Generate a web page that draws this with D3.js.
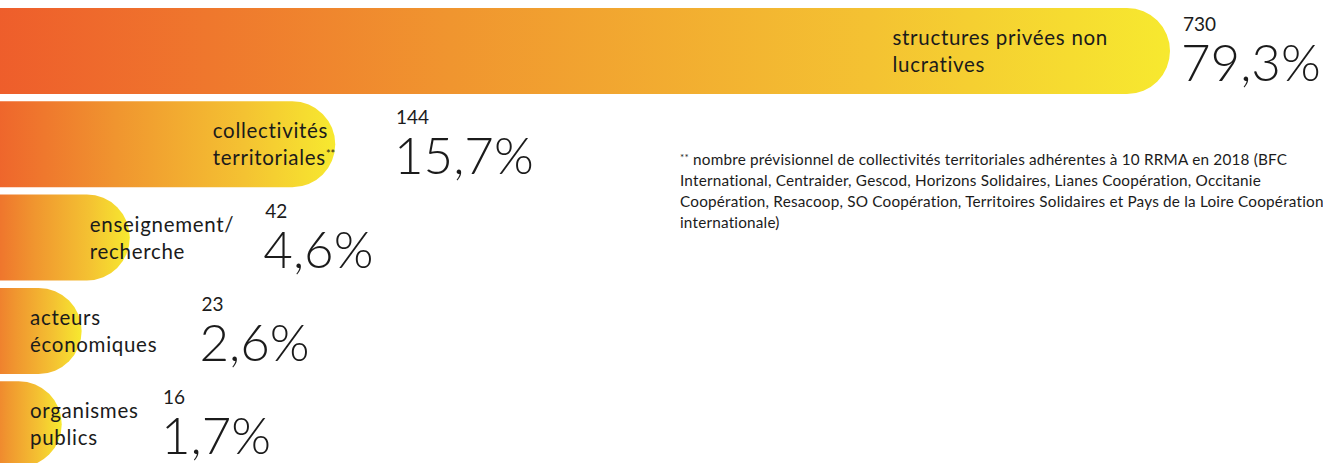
<!DOCTYPE html>
<html>
<head>
<meta charset="utf-8">
<script src="https://cdn.jsdelivr.net/npm/d3@7"></script>
<style>
  html, body { margin: 0; padding: 0; background: #fff; overflow: hidden; }
  svg { display: block; }
  text { font-family: "Lato", "Open Sans", sans-serif; fill: #1b1b1b; }
</style>
</head>
<body>
<svg id="chart" width="1323" height="463"></svg>
<script>
// ---- data ----
const categories = [
  "structures privées non\nlucratives",
  "collectivités\nterritoriales**",
  "enseignement/\nrecherche",
  "acteurs\néconomiques",
  "organismes\npublics"
];
const counts = [730, 144, 42, 23, 16];
const percents = [79.3, 15.7, 4.6, 2.6, 1.7];
const footnoteLines = [
  "nombre prévisionnel de collectivités territoriales adhérentes à 10 RRMA en 2018 (BFC",
  "International, Centraider, Gescod, Horizons Solidaires, Lianes Coopération, Occitanie",
  "Coopération, Resacoop, SO Coopération, Territoires Solidaires et Pays de la Loire Coopération",
  "internationale)"
];

// ---- layout ----
const W = 1323, H = 463;
const svg = d3.select("#chart");
const defs = svg.append("defs");

const y = d3.scaleBand()
  .domain(categories)
  .range([8, 467.2])
  .paddingInner(0.078)
  .paddingOuter(0);

const x = d3.scalePow().exponent(0.77).domain([0, d3.max(counts)]).range([0, 1170]);
// horizontal position of the value annotations for the short bars
const numX = d3.scaleLog().domain([16, 144]).range([163, 396]);

const fmt = v => d3.format(".1f")(v).replace(".", ",") + "%";
const rows = categories.map((c, i) => ({ cat: c, lines: c.split("\n"), count: counts[i], pct: percents[i], i }));

const leftOverhang = 60;   // bars start off-canvas
const gradLead = 30;

rows.forEach(d => {
  const w = x(d.count);
  const g = defs.append("linearGradient")
    .attr("id", "grad" + d.i)
    .attr("gradientUnits", "userSpaceOnUse")
    .attr("x1", -gradLead).attr("x2", w).attr("y1", 0).attr("y2", 0);
  g.append("stop").attr("offset", 0).attr("stop-color", "#EE5A2B");
  g.append("stop").attr("offset", 0.4).attr("stop-color", "#F0952F");
  g.append("stop").attr("offset", 0.75).attr("stop-color", "#F4C232");
  g.append("stop").attr("offset", 1).attr("stop-color", "#F7E92F");
});

const barPath = d => {
  const w = x(d.count), y0 = y(d.cat), h = y.bandwidth(), r = h / 2;
  return `M${-leftOverhang},${y0} H${w - r} A${r},${r} 0 0 1 ${w - r},${y0 + h} H${-leftOverhang} Z`;
};

svg.append("g").selectAll("path")
  .data(rows).join("path")
  .attr("d", barPath)
  .attr("fill", d => `url(#grad${d.i})`);

// category labels
const labelSize = 20.5, lineH = 27;
const labelG = svg.append("g");
rows.forEach(d => {
  const w = x(d.count), y0 = y(d.cat), r = y.bandwidth() / 2;
  const t = labelG.append("text")
    .attr("font-size", labelSize)
    .attr("letter-spacing", 0.7)
    .attr("font-weight", 400);
  d.lines.forEach((ln, k) => {
    const ts = t.append("tspan").attr("x", 0).attr("y", y0 + 37 + k * lineH);
    const m = ln.match(/^(.*?)(\*\*)$/);
    if (m) {
      ts.text(m[1]);
      t.append("tspan").attr("dy", -7).attr("font-size", 11).attr("letter-spacing", 0).text(m[2]);
    } else ts.text(ln);
  });
  const tw = t.node().getBBox().width;
  let sx;
  if (w - r > tw) {
    const end = w - (w > 600 ? 62 : 0);
    sx = end - tw;
  } else {
    sx = w > 100 ? w - 40 : 30;
  }
  t.attr("transform", `translate(${sx},0)`);
});

// value annotations
const valG = svg.append("g");
rows.forEach(d => {
  const w = x(d.count), y0 = y(d.cat);
  const nx = Math.max(w + 13, numX(d.count));
  valG.append("text")
    .attr("x", nx).attr("y", y0 + 23)
    .attr("font-size", 19).attr("font-weight", 400)
    .text(d.count);
  valG.append("text")
    .attr("x", nx - 2).attr("y", y0 + 73)
    .attr("font-size", 51).attr("font-weight", 300)
    .text(fmt(d.pct));
});

// footnote
const fn = svg.append("text")
  .attr("font-size", 15.3).attr("letter-spacing", 0.2).attr("font-weight", 400);
footnoteLines.forEach((ln, k) => {
  const ts = fn.append("tspan").attr("x", 680).attr("y", 165 + k * 21);
  if (k === 0) {
    ts.append("tspan").attr("font-size", 10).attr("dy", -4).text("**");
    ts.append("tspan").attr("dy", 4).text(" " + ln);
  } else ts.text(ln);
});
</script>
</body>
</html>
